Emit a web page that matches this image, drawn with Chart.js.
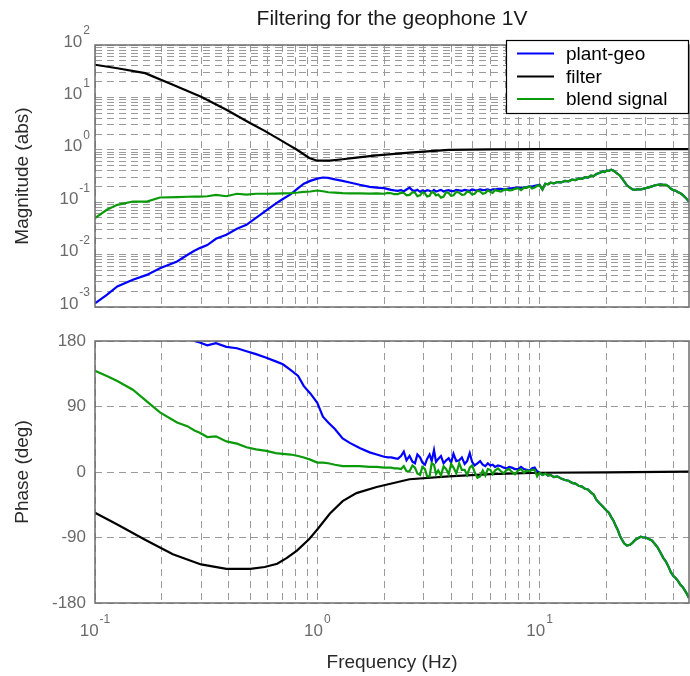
<!DOCTYPE html>
<html>
<head>
<meta charset="utf-8">
<title>Filtering for the geophone 1V</title>
<script src="https://cdn.jsdelivr.net/npm/chart.js@4"></script>
<style>
  body { margin: 0; background: #fff; }
  #wrap { position: relative; width: 690px; height: 676px; }
  canvas { position: absolute; left: 0; }
</style>
</head>
<body>
<div id="wrap">
  <canvas id="magChart" width="690" height="320" style="top:0"></canvas>
  <canvas id="phaseChart" width="690" height="356" style="top:320px"></canvas>
</div>
<script>
// ---- data ----
// plant-geo and blend signal share one frequency axis (Hz), kept in three bands
const freqLow = [0.1, 0.113, 0.126, 0.148, 0.171, 0.196, 0.234, 0.26, 0.28, 0.296,
  0.32, 0.35, 0.39, 0.435, 0.48, 0.53, 0.59, 0.65, 0.70, 0.76,
  0.82, 0.87, 0.93, 1.0, 1.06, 1.12, 1.2, 1.3, 1.4, 1.55,
  1.72, 1.85];
const freqMid = [2.0, 2.08, 2.15, 2.22, 2.3, 2.38, 2.45, 2.52, 2.6, 2.68,
  2.75, 2.82, 2.9, 2.97, 3.05, 3.12, 3.2, 3.27, 3.35, 3.42,
  3.5, 3.6, 3.7, 3.8, 3.9, 4.0, 4.1, 4.22, 4.35, 4.47,
  4.6, 4.72, 4.85, 4.97, 5.1, 5.25, 5.4, 5.55, 5.7, 5.85,
  6.0, 6.15, 6.3, 6.5, 6.7, 6.9, 7.1, 7.3, 7.5, 7.75,
  8.0, 8.25, 8.5, 8.75, 9.0, 9.25, 9.5, 9.75, 10];
const freqHigh = [10.3, 10.6, 10.9, 11.2, 11.6, 12, 12.5, 13, 13.5, 14,
  14.5, 15, 15.5, 16, 16.5, 17, 17.5, 18, 18.6, 19.2,
  19.6, 20, 20.5, 21, 21.5, 22, 22.5, 23, 23.5, 24,
  24.7, 25.5, 26.2, 27, 27.7, 28.5, 29.2, 30, 31, 32,
  33, 34, 35, 36, 37, 38, 39, 40, 41, 42,
  43, 44, 45.5, 47];

const magPlantLow = [0.00118, 0.0017, 0.00246, 0.0033, 0.0041, 0.0055, 0.0074, 0.0098, 0.0118, 0.0133,
  0.0152, 0.020, 0.024, 0.031, 0.037, 0.050, 0.070, 0.094, 0.115, 0.142,
  0.185, 0.225, 0.255, 0.282, 0.296, 0.292, 0.272, 0.255, 0.238, 0.215,
  0.196, 0.19];
const magPlantMid = [0.185, 0.178, 0.172, 0.168, 0.165, 0.17, 0.162, 0.175, 0.19, 0.168,
  0.165, 0.172, 0.158, 0.168, 0.16, 0.17, 0.165, 0.158, 0.172, 0.16,
  0.165, 0.172, 0.16, 0.166, 0.17, 0.163, 0.162, 0.172, 0.168, 0.165,
  0.172, 0.168, 0.165, 0.175, 0.17, 0.168, 0.175, 0.17, 0.172, 0.176,
  0.168, 0.176, 0.175, 0.18, 0.18, 0.176, 0.178, 0.184, 0.185, 0.188,
  0.19, 0.186, 0.192, 0.195, 0.2, 0.198, 0.205, 0.21, 0.215];
const magBlendLow = [0.05, 0.0716, 0.089, 0.103, 0.103, 0.123, 0.125, 0.127, 0.128, 0.128,
  0.13, 0.138, 0.13, 0.145, 0.14, 0.145, 0.145, 0.146, 0.147, 0.149,
  0.153, 0.158, 0.16, 0.167, 0.162, 0.155, 0.152, 0.149, 0.148, 0.147,
  0.146, 0.147];
const magBlendMid = [0.145, 0.15, 0.148, 0.142, 0.142, 0.152, 0.15, 0.135, 0.138, 0.155,
  0.152, 0.13, 0.135, 0.155, 0.148, 0.128, 0.132, 0.158, 0.15, 0.135,
  0.14, 0.122, 0.128, 0.155, 0.15, 0.132, 0.135, 0.158, 0.152, 0.138,
  0.14, 0.16, 0.155, 0.14, 0.145, 0.165, 0.16, 0.145, 0.15, 0.168,
  0.158, 0.15, 0.17, 0.165, 0.16, 0.17, 0.175, 0.168, 0.17, 0.18,
  0.185, 0.17, 0.19, 0.188, 0.2, 0.182, 0.19, 0.205, 0.21];
// above 10 Hz the two curves lie on top of each other
const magHigh = [0.175, 0.225, 0.22, 0.235, 0.228, 0.242, 0.238, 0.255, 0.25, 0.27,
  0.265, 0.282, 0.278, 0.30, 0.295, 0.32, 0.315, 0.345, 0.36, 0.385,
  0.375, 0.40, 0.395, 0.418, 0.40, 0.37, 0.345, 0.32, 0.285, 0.25,
  0.21, 0.19, 0.175, 0.172, 0.178, 0.175, 0.18, 0.186, 0.192, 0.2,
  0.21, 0.215, 0.218, 0.215, 0.215, 0.2, 0.18, 0.17, 0.165, 0.155,
  0.148, 0.138, 0.12, 0.103];

// plant-geo phase is above the axis top below ~0.28 Hz
const phasePlantLow = [null, null, null, null, null, null, null, null, 180, 178,
  174, 177, 172, 170, 166, 162, 157, 152, 148, 140,
  132, 118, 108, 95, 76, 68, 59, 46, 40, 33,
  27, 24];
const phasePlantMid = [21, 20, 20, 19, 18, 22, 28, 16, 22, 14,
  12, 24, 20, 13, 10, 18, 24, 15, 30, 14,
  18, 22, 12, 16, 19, 13, 25, 15, 16, 20,
  11, 15, 26, 14, 9, 12, 15, 10, 8, 12,
  9, 10, 7, 9, 8, 6, 5, 7, 6, 4,
  4, 7, 4, 3, 2, 5, 6, 1, -1];
const phaseBlendLow = [139, 132, 125, 113, 97, 82, 68, 63, 57, 54,
  48, 49, 42, 39, 34, 31, 29, 26, 25, 24,
  22, 20, 17, 13, 13, 12, 10, 8, 8, 8,
  7, 7];
const phaseBlendMid = [6, 6, 6, 5, 5, 4, 8, 1, 1, 9,
  6, -2, -4, 7, 4, -6, -6, 12, 10, -3,
  2, -5, 8, 4, -3, 11, 6, -2, 12, 3,
  3, -4, 6, 9, 0, -8, -6, 2, -5, 4,
  3, -3, 2, 5, 1, -2, 3, 4, 0, -3,
  2, 4, -1, 2, 1, 3, 3, -6, -1];
const phaseHigh = [-4, -2, -5, -4, -7, -6, -9, -11, -12, -15,
  -16, -19, -20, -23, -24, -28, -31, -38, -43, -47,
  -50, -53, -56, -62, -67, -74, -80, -88, -93, -98,
  -101, -100, -97, -93, -91, -89, -90, -90, -92, -94,
  -99, -104, -111, -118, -123, -130, -138, -143, -146, -150,
  -155, -158, -165, -173];

// filter is a coarse, smooth curve with its own frequencies
const freqFilter = [0.1, 0.126, 0.168, 0.224, 0.3, 0.39, 0.5, 0.58, 0.66, 0.73, 0.81, 0.92,
  1.0, 1.14, 1.3, 1.5, 1.85, 2.6, 3.9, 6, 10, 20, 47];
const magFilter = [42, 36, 29, 17.4, 10.3, 5.8, 3.2, 2.3, 1.67, 1.3, 1.0, 0.70,
  0.62, 0.62, 0.66, 0.71, 0.78, 0.88, 1.0, 1.02, 1.03, 1.03, 1.03];
const phaseFilter = [-56, -72, -93, -113, -127, -133, -133, -130.5, -126, -118, -108, -92,
  -79, -57, -40, -29, -20.6, -10, -6, -3, -1, -0.5, 0.4];

const seriesLabels = ['plant-geo', 'filter', 'blend signal'];
const seriesColors = ['#0000ff', '#000000', '#0a9a0a'];
const magTickExp = [2, 1, 0, -1, -2, -3];
const phaseTicks = [180, 90, 0, -90, -180];
const freqTickExp = [-1, 0, 1];

const freq = freqLow.concat(freqMid, freqHigh);
const magPlant = magPlantLow.concat(magPlantMid, magHigh);
const magBlend = magBlendLow.concat(magBlendMid, magHigh);
const phasePlant = phasePlantLow.concat(phasePlantMid, phaseHigh);
const phaseBlend = phaseBlendLow.concat(phaseBlendMid, phaseHigh);

// ---- style ----
const FONT = "'Liberation Sans', Arial, sans-serif";
const GRID = '#9a9a9a';
const TICK_COLOR = '#6b6b6b';
const FRAME = '#6e6e6e';
const F_MIN = 0.1, F_MAX = 47;

function pts(xs, ys) {
  return xs.map((x, i) => ({ x: x, y: ys[i] }));
}

function logGrid(lo, hi) {
  const out = [];
  for (let d = lo; d < hi * 1.0001; d *= 10) {
    for (let k = 1; k <= 9; k++) {
      const v = +(k * d).toPrecision(6);
      if (v >= lo && v <= hi) out.push(v);
    }
  }
  return out;
}
const freqGrid = logGrid(F_MIN, F_MAX);
const magGrid = logGrid(0.001, 100);

function lineDs(label, data, color) {
  return {
    label: label, data: data, borderColor: color, backgroundColor: color,
    borderWidth: 2.2, pointRadius: 0, tension: 0, spanGaps: false
  };
}

function freqAxis() {
  return {
    type: 'logarithmic', min: F_MIN, max: F_MAX,
    grid: { color: GRID, lineWidth: 1, drawTicks: false },
    border: { display: false, dash: [7, 5] },
    ticks: { display: false },
    afterBuildTicks: s => { s.ticks = freqGrid.map(v => ({ value: v })); },
    afterFit: s => { s.height = 0; }
  };
}

function drawPow(ctx, exp, x, y, align) {
  ctx.font = '17px ' + FONT;
  const wb = ctx.measureText('10').width;
  ctx.font = '12px ' + FONT;
  const we = ctx.measureText(String(exp)).width;
  const total = wb + we + 1;
  const start = align === 'right' ? x - total : x - total / 2;
  ctx.textAlign = 'left';
  ctx.textBaseline = 'middle';
  ctx.font = '17px ' + FONT;
  ctx.fillText('10', start, y);
  ctx.font = '12px ' + FONT;
  ctx.fillText(String(exp), start + wb + 1, y - 11);
}

function drawFrame(chart) {
  const { ctx, chartArea: a } = chart;
  ctx.save();
  ctx.strokeStyle = FRAME;
  ctx.lineWidth = 1.5;
  ctx.strokeRect(a.left, a.top, a.right - a.left, a.bottom - a.top);
  ctx.restore();
}

function drawYTitle(chart, text) {
  const { ctx, chartArea: a } = chart;
  ctx.save();
  ctx.translate(23, (a.top + a.bottom) / 2);
  ctx.rotate(-Math.PI / 2);
  ctx.fillStyle = '#2a2a2a';
  ctx.font = '19px ' + FONT;
  ctx.textAlign = 'center';
  ctx.textBaseline = 'middle';
  ctx.fillText(text, 0, 0);
  ctx.restore();
}

const magDecor = {
  id: 'magDecor',
  afterDraw(chart) {
    const { ctx, chartArea: a } = chart;
    const ys = chart.scales.y;
    drawFrame(chart);
    ctx.save();
    ctx.fillStyle = TICK_COLOR;
    magTickExp.forEach(e => drawPow(ctx, e, 90, ys.getPixelForValue(Math.pow(10, e)) - 3, 'right'));
    ctx.restore();
    drawYTitle(chart, 'Magnitude (abs)');

    // title
    ctx.save();
    ctx.fillStyle = '#1a1a1a';
    ctx.font = '21px ' + FONT;
    ctx.textAlign = 'center';
    ctx.textBaseline = 'middle';
    ctx.fillText('Filtering for the geophone 1V', (a.left + a.right) / 2, 19);
    ctx.restore();

    // legend box inside the axes, top right
    ctx.save();
    const bx = 506, by = 40, bw = 182, bh = 73;
    ctx.fillStyle = '#fff';
    ctx.fillRect(bx, by, bw, bh);
    ctx.strokeStyle = '#000';
    ctx.lineWidth = 1.2;
    ctx.strokeRect(bx + 0.5, by + 0.5, bw, bh);
    const rows = [53.5, 76.5, 99];
    ctx.font = '19px ' + FONT;
    ctx.textAlign = 'left';
    ctx.textBaseline = 'middle';
    seriesLabels.forEach((lab, i) => {
      ctx.strokeStyle = seriesColors[i];
      ctx.lineWidth = 2.2;
      ctx.beginPath();
      ctx.moveTo(517, rows[i]);
      ctx.lineTo(554, rows[i]);
      ctx.stroke();
      ctx.fillStyle = '#000';
      ctx.fillText(lab, 566, rows[i] + 1);
    });
    ctx.restore();
  }
};

const phaseDecor = {
  id: 'phaseDecor',
  afterDraw(chart) {
    const { ctx, chartArea: a } = chart;
    const ys = chart.scales.y, xs = chart.scales.x;
    drawFrame(chart);
    ctx.save();
    ctx.fillStyle = TICK_COLOR;
    ctx.font = '17px ' + FONT;
    ctx.textAlign = 'right';
    ctx.textBaseline = 'middle';
    phaseTicks.forEach(v => ctx.fillText(String(v), 86, ys.getPixelForValue(v)));
    freqTickExp.forEach(e => drawPow(ctx, e, xs.getPixelForValue(Math.pow(10, e)), a.bottom + 28, 'center'));
    ctx.restore();
    drawYTitle(chart, 'Phase (deg)');

    ctx.save();
    ctx.fillStyle = '#2a2a2a';
    ctx.font = '19px ' + FONT;
    ctx.textAlign = 'center';
    ctx.textBaseline = 'middle';
    ctx.fillText('Frequency (Hz)', (a.left + a.right) / 2, a.bottom + 60);
    ctx.restore();
  }
};

const baseOptions = {
  responsive: false,
  animation: false,
  devicePixelRatio: 1,
  plugins: { legend: { display: false }, tooltip: { enabled: false } }
};

// first dataset is drawn on top, so blend goes first
new Chart(document.getElementById('magChart'), {
  type: 'line',
  data: {
    datasets: [
      lineDs(seriesLabels[2], pts(freq, magBlend), seriesColors[2]),
      lineDs(seriesLabels[1], pts(freqFilter, magFilter), seriesColors[1]),
      lineDs(seriesLabels[0], pts(freq, magPlant), seriesColors[0])
    ]
  },
  options: Object.assign({}, baseOptions, {
    layout: { padding: { left: 95, right: 1, top: 45, bottom: 13 } },
    scales: {
      x: freqAxis(),
      y: {
        type: 'logarithmic', min: 0.001, max: 100,
        grid: { color: GRID, lineWidth: 1, drawTicks: false },
        border: { display: false, dash: [7, 5] },
        ticks: { display: false },
        afterBuildTicks: s => { s.ticks = magGrid.map(v => ({ value: v })); },
        afterFit: s => { s.width = 0; }
      }
    }
  }),
  plugins: [magDecor]
});

new Chart(document.getElementById('phaseChart'), {
  type: 'line',
  data: {
    datasets: [
      lineDs(seriesLabels[2], pts(freq, phaseBlend), seriesColors[2]),
      lineDs(seriesLabels[1], pts(freqFilter, phaseFilter), seriesColors[1]),
      lineDs(seriesLabels[0], pts(freq, phasePlant), seriesColors[0])
    ]
  },
  options: Object.assign({}, baseOptions, {
    layout: { padding: { left: 95, right: 1, top: 21, bottom: 73 } },
    scales: {
      x: freqAxis(),
      y: {
        type: 'linear', min: -180, max: 180,
        grid: { color: GRID, lineWidth: 1, drawTicks: false },
        border: { display: false, dash: [7, 5] },
        ticks: { display: false },
        afterBuildTicks: s => { s.ticks = phaseTicks.map(v => ({ value: v })); },
        afterFit: s => { s.width = 0; }
      }
    }
  }),
  plugins: [phaseDecor]
});
</script>
</body>
</html>
